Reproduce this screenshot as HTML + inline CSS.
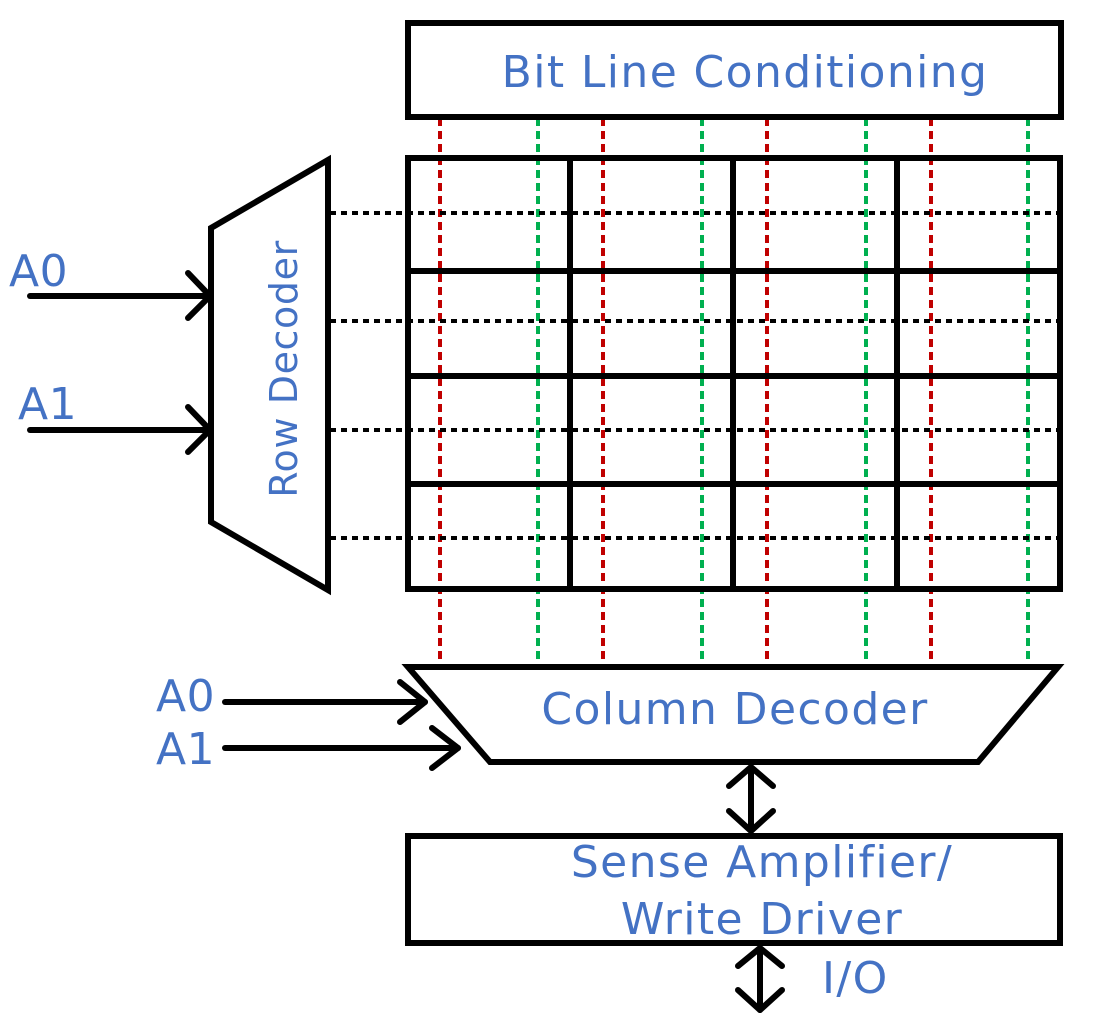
<!DOCTYPE html>
<html><head><style>html,body{margin:0;padding:0;background:#fff}svg{display:block}
text{font-family:"DejaVu Sans","Liberation Sans",sans-serif;fill:#4472C4}</style></head>
<body>
<svg width="1098" height="1026" viewBox="0 0 1098 1026" xmlns="http://www.w3.org/2000/svg">
<g stroke-width="4" stroke-dasharray="8,5" fill="none">
<g stroke="#C00000">
<line x1="440" y1="118" x2="440" y2="665"/><line x1="603" y1="118" x2="603" y2="665"/>
<line x1="767" y1="118" x2="767" y2="665"/><line x1="931" y1="118" x2="931" y2="665"/>
</g>
<g stroke="#00B050">
<line x1="538" y1="118" x2="538" y2="665"/><line x1="702" y1="118" x2="702" y2="665"/>
<line x1="866" y1="118" x2="866" y2="665"/><line x1="1028" y1="118" x2="1028" y2="665"/>
</g>
<g stroke="#000" stroke-dasharray="6,5">
<line x1="330" y1="213" x2="1060" y2="213"/><line x1="330" y1="321" x2="1060" y2="321"/>
<line x1="330" y1="430" x2="1060" y2="430"/><line x1="330" y1="538" x2="1060" y2="538"/>
</g>
</g>
<g stroke="#000" stroke-width="6" fill="none" stroke-linejoin="miter">
<rect x="408" y="23" width="653" height="94" fill="#fff"/>
<rect x="408" y="158" width="652" height="431"/>
<line x1="570" y1="158" x2="570" y2="589"/><line x1="733" y1="158" x2="733" y2="589"/><line x1="897" y1="158" x2="897" y2="589"/>
<line x1="408" y1="271" x2="1060" y2="271"/><line x1="408" y1="376" x2="1060" y2="376"/><line x1="408" y1="484" x2="1060" y2="484"/>
<polygon points="211,228 328,160 328,590 211,522" fill="#fff"/>
<polygon points="408,667 1058,667 978,762 490,762" fill="#fff"/>
<rect x="408" y="836" width="652" height="107"/>
</g>
<g stroke="#000" stroke-width="6" fill="none" stroke-linecap="round" stroke-linejoin="round">
<line x1="30" y1="296" x2="210" y2="296"/><polyline points="188,273 210,296 188,318"/>
<line x1="30" y1="430" x2="210" y2="430"/><polyline points="188,407 210,430 188,452"/>
<line x1="225" y1="702" x2="425" y2="702"/><polyline points="400,682 425,702 400,722"/>
<line x1="225" y1="748" x2="458" y2="748"/><polyline points="432,728 458,748 432,768"/>
<line x1="751" y1="767" x2="751" y2="831"/><polyline points="729,786 751,767 773,786"/><polyline points="729,811 751,831 773,811"/>
<line x1="760" y1="948" x2="760" y2="1010"/><polyline points="738,966 760,948 782,966"/><polyline points="738,990 760,1010 782,990"/>
</g>
<g font-size="44" letter-spacing="1.4">
<text x="745" y="87" text-anchor="middle">Bit Line Conditioning</text>
<text x="0" y="0" font-size="38" letter-spacing="0.6" text-anchor="middle" transform="translate(297,369) rotate(-90)">Row Decoder</text>
<text x="9" y="286" letter-spacing="0.5">A0</text>
<text x="18" y="419" letter-spacing="0.5">A1</text>
<text x="156" y="711" letter-spacing="0.5">A0</text>
<text x="156" y="764" letter-spacing="0.5">A1</text>
<text x="735" y="724" text-anchor="middle">Column Decoder</text>
<text x="762" y="877" text-anchor="middle">Sense Amplifier/</text>
<text x="762" y="934" text-anchor="middle">Write Driver</text>
<text x="822" y="993">I/O</text>
</g>
</svg>
</body></html>
